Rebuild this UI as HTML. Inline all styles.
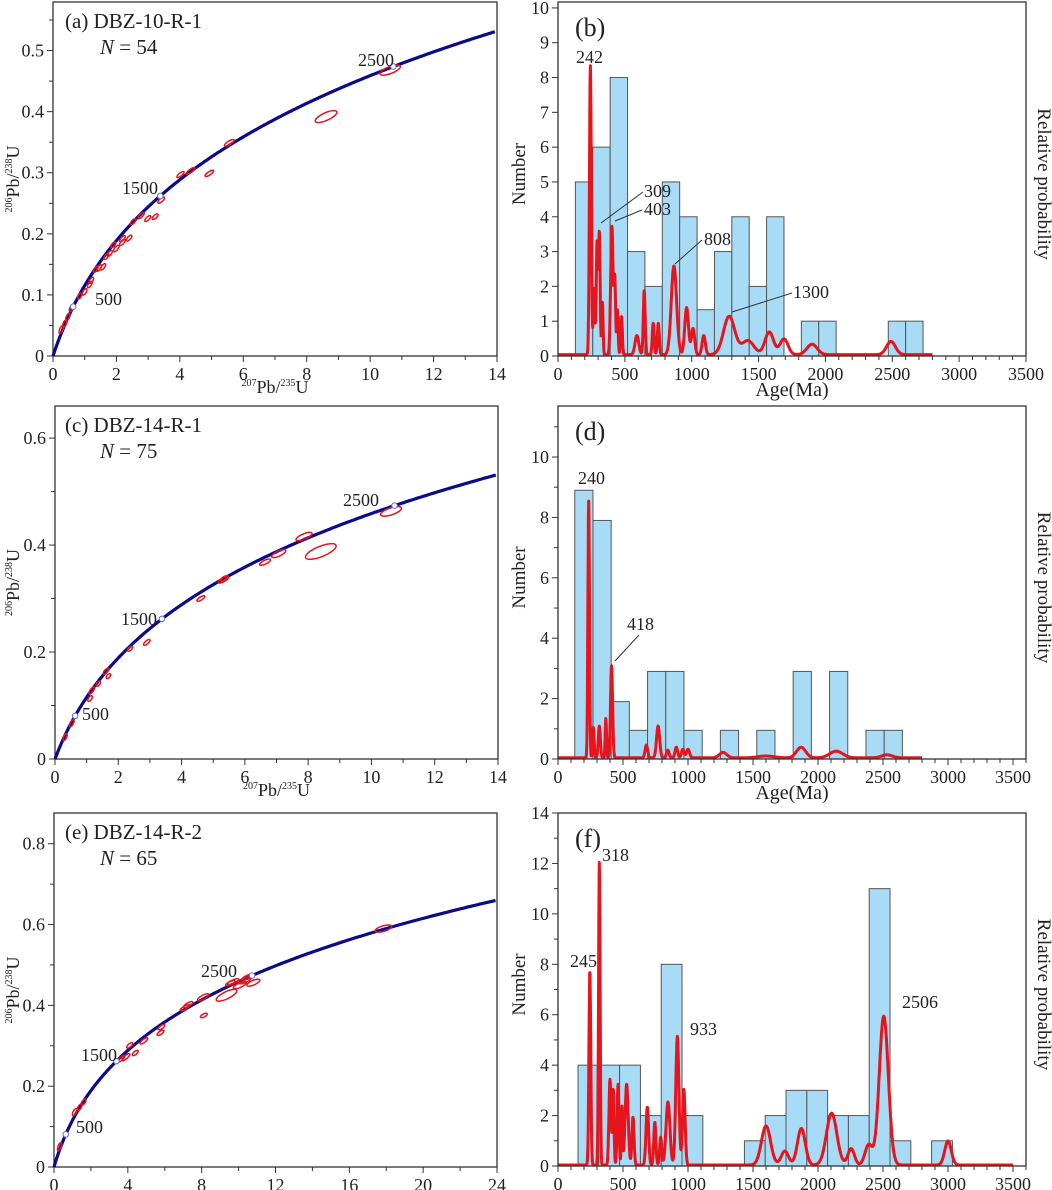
<!DOCTYPE html>
<html><head><meta charset="utf-8">
<style>
html,body{margin:0;padding:0;background:#fff;}
svg{display:block;font-family:"Liberation Serif",serif;}
</style></head>
<body>
<svg id="fig" width="1052" height="1190" viewBox="0 0 1052 1190" xmlns="http://www.w3.org/2000/svg"></svg>
<script>
// ---------- Concordia data (207Pb/235U, 206Pb/238U, semi-major error in 207/235 units) ----------
const ellA_x=[10.63,8.61,5.56,4.34,4.02,4.93,3.41,2.78,2.99,3.22,2.53,2.40,2.19,2.19,2.00,1.90,1.79,1.68,1.58,1.45,1.35,1.21,1.16,1.00,0.84,0.58,0.47,0.37,0.26];
const ellA_y=[0.468,0.392,0.349,0.303,0.297,0.299,0.255,0.230,0.225,0.228,0.220,0.193,0.186,0.192,0.176,0.182,0.168,0.163,0.146,0.144,0.142,0.124,0.117,0.105,0.098,0.078,0.064,0.053,0.043];
const ellA_e=[0.32,0.34,0.15,0.13,0.11,0.13,0.10,0.09,0.09,0.09,0.08,0.08,0.08,0.08,0.08,0.07,0.07,0.07,0.07,0.07,0.06,0.06,0.06,0.06,0.05,0.05,0.05,0.05,0.05];

const ellC_x=[10.62,8.40,7.87,7.07,6.64,5.32,5.35,4.61,2.90,2.37,1.69,1.61,1.37,1.16,1.11,0.53,0.32];
const ellC_y=[0.463,0.388,0.416,0.384,0.368,0.335,0.338,0.300,0.218,0.206,0.155,0.164,0.141,0.128,0.113,0.067,0.041];
const ellC_e=[0.33,0.48,0.25,0.22,0.17,0.16,0.12,0.12,0.10,0.07,0.06,0.08,0.06,0.08,0.06,0.06,0.05];

const ellE_x=[17.85,9.71,9.35,10.35,10.80,10.07,10.50,9.55,8.08,8.12,7.27,7.09,5.82,5.77,4.87,4.10,4.40,3.90,3.65,1.61,1.39,1.12,0.30];
const ellE_y=[0.590,0.458,0.425,0.462,0.456,0.450,0.470,0.455,0.420,0.375,0.402,0.394,0.346,0.332,0.312,0.301,0.282,0.272,0.268,0.161,0.148,0.136,0.050];
const ellE_e=[0.45,0.30,0.55,0.35,0.35,0.35,0.30,0.25,0.30,0.18,0.25,0.25,0.18,0.18,0.20,0.15,0.15,0.20,0.18,0.10,0.10,0.10,0.08];

// ---------- Histogram data ----------
const binsB_start=130, binsB_width=130;
const countsB=[5,6,8,3,2,5,4,1.33,3,4,2,4,0,1,1,0,0,0,1,1];
const peaksB_age=[242,270,292,309,332,403,425,445,475,590,645,712,750,867,962,1010,1090,1280,1420,1580,1690,1900,2490];
const peaksB_h=[8.3,1.9,3.2,3.5,1.5,3.7,2.1,1.3,1.1,0.55,1.85,0.9,0.9,2.55,1.35,0.75,0.55,1.1,0.4,0.65,0.45,0.3,0.38];
const peaksB_w=[7,6,6,6,5,9,6,5,6,14,7,7,7,20,14,12,12,42,45,32,30,38,33];

const binsD_start=129, binsD_width=140;
const countsD=[8.9,7.9,1.9,0.95,2.9,2.9,0.95,0,0.95,0,0.95,0,2.9,0,2.9,0,0.95,0.95];
const peaksD_age=[236,272,318,368,412,680,770,845,910,960,1000,1270,1600,1870,2140,2530];
const peaksD_h=[8.5,1.0,1.05,1.3,3.05,0.42,1.05,0.25,0.35,0.28,0.28,0.18,0.06,0.35,0.22,0.1];
const peaksD_w=[6,6,8,5,8,10,12,10,10,10,12,28,60,35,50,40];

const binsF_start=154, binsF_width=160;
const countsF=[4,4,4,2,8,2,0,0,1,2,3,3,2,2,11,1,0,1];
const peaksF_age=[245,318,400,425,462,492,528,577,687,745,790,846,918,968,1600,1745,1872,2105,2255,2390,2506,3000];
const peaksF_h=[7.7,12,3.4,3.0,3.2,2.3,3.2,1.9,2.3,1.7,1.1,2.5,5.1,3.0,1.55,0.55,1.45,2.05,0.65,0.8,5.9,0.95];
const peaksF_w=[7,6,8,6,7,5,12,8,10,8,8,15,12,10,35,28,30,40,25,28,35,25];

// ---------- helpers ----------
const NS="http://www.w3.org/2000/svg";
const svg=document.getElementById('fig');
function mk(tag,attrs,parent){const e=document.createElementNS(NS,tag);for(const k in attrs)e.setAttribute(k,attrs[k]);(parent||svg).appendChild(e);return e;}
function txt(str,x,y,size,parent,anchor,extra){const t=mk('text',Object.assign({x:x,y:y,'font-size':size,fill:'#222','text-anchor':anchor||'middle'},extra||{}),parent);t.textContent=str;return t;}
const L235=9.8485e-4, L238=1.55125e-4;

function concordiaPanel(id,L,R,T,B,xmax,ymax,title,nText,major,yStep,yMinor,labelPos,ex,ey,ee,showXTitle,xtickStep){
  const g=mk('g',{});
  
  
  const X=v=>L+(v/xmax)*(R-L), Y=v=>B-(v/ymax)*(B-T);
  // frame
  const fr=mk('rect',{x:L,y:T,width:R-L,height:B-T,fill:'none',stroke:'#333','stroke-width':1.3},g);
  
  
  // x ticks
  for(let v=0;v<=xmax+1e-9;v+=xtickStep/2){
    const isMaj=Math.abs(v/xtickStep-Math.round(v/xtickStep))<1e-6;
    mk('line',{x1:X(v),x2:X(v),y1:B,y2:B+(isMaj?6:4),stroke:'#333','stroke-width':1},g);
    if(isMaj){const t=txt(String(Math.round(v)),X(v),B+24,18,g);}
  }
  for(let v=0;v<=ymax+1e-9;v+=yMinor){
    const isMaj=Math.abs(v/yStep-Math.round(v/yStep))<1e-6;
    mk('line',{x1:L,x2:L-(isMaj?6:4),y1:Y(v),y2:Y(v),stroke:'#333','stroke-width':1},g);
    if(isMaj){const s=v<1e-9?'0':(Math.round(v*10)/10).toString();const t=txt(s,L-9,Y(v)+6,18,g,'end');}
  }
  // concordia curve
  const tmax=Math.log(1+xmax)/L235;
  let d='';
  for(let t=0;t<=tmax;t+=5){const x=Math.exp(L235*t)-1,y=Math.exp(L238*t)-1;d+=(t?'L':'M')+X(x).toFixed(1)+' '+Y(y).toFixed(1);}
  const cp=mk('path',{d:d,fill:'none',stroke:'#0a0a8c','stroke-width':3.2},g);
  
  
  // ellipses
  for(let i=0;i<ex.length;i++){
    const cx=X(ex[i]),cy=Y(ey[i]);
    const t=Math.log(1+ex[i])/L235;
    const slope=(L238*Math.exp(L238*t))/(L235*Math.exp(L235*t));
    const dxp=(R-L)/xmax, dyp=(B-T)/ymax;
    const ang=Math.atan2(-slope*dyp,dxp)*180/Math.PI;
    const rx=Math.max(2.5,ee[i]*dxp*Math.sqrt(1+Math.pow(slope*dyp/dxp,2)));
    const ry=Math.max(1.6,rx*0.32);
    const el=mk('ellipse',{cx:cx,cy:cy,rx:rx.toFixed(1),ry:ry.toFixed(1),fill:'none',stroke:'#e8141c','stroke-width':1.5,transform:`rotate(${ang.toFixed(1)} ${cx.toFixed(1)} ${cy.toFixed(1)})`},g);
    
    
  }
  // age markers
  [500,1500,2500].forEach((a,k)=>{
    const x=Math.exp(L235*a)-1,y=Math.exp(L238*a)-1;
    const c=mk('circle',{cx:X(x),cy:Y(y),r:2.8,fill:'#fff',stroke:'#6a6acc','stroke-width':1},g);
    
    
    const t=txt(String(a),labelPos[k][0],labelPos[k][1],18,g,'start');
    
    
  });
  const ti=txt(title,65,T+26,21,g,'start');
  
  
  const nt=mk('text',{x:100,y:T+52,'font-size':21,fill:'#222'},g);
  
  
  nt.innerHTML='<tspan font-style="italic">N</tspan> = '+nText;
  const yt=mk('text',{transform:`translate(19 ${(T+B)/2}) rotate(-90)`,'text-anchor':'middle','font-size':18,fill:'#222'},g);
  
  
  yt.innerHTML='<tspan font-size="10" dy="-7">206</tspan><tspan dy="7">Pb/</tspan><tspan font-size="10" dy="-7">238</tspan><tspan dy="7">U</tspan>';
  if(showXTitle){
    const xt=mk('text',{x:(L+R)/2,y:B+37,'text-anchor':'middle','font-size':18,fill:'#222'},g);
    
    
    xt.innerHTML='<tspan font-size="10" dy="-7">207</tspan><tspan dy="7">Pb/</tspan><tspan font-size="10" dy="-7">235</tspan><tspan dy="7">U</tspan>';
  }
}

function histPanel(id,L,R,T,B,xmax,ymax,yStep,bStart,bWidth,counts,pa,ph,pw,curveEnd,annots,showXTitle,label){
  const g=mk('g',{});
  
  
  const X=v=>L+(v/xmax)*(R-L), Y=v=>B-(v/ymax)*(B-T);
  counts.forEach((c,i)=>{
    if(c<=0)return;
    const x0=X(bStart+i*bWidth),x1=X(bStart+(i+1)*bWidth);
    const r=mk('rect',{x:x0,y:Y(c),width:x1-x0,height:B-Y(c),fill:'#a8dcf6',stroke:'#555','stroke-width':1},g);
    
    
  });
  let d='';
  for(let a=0;a<=curveEnd;a+=2){
    let v=0.04;
    for(let k=0;k<pa.length;k++){v+=ph[k]*Math.exp(-0.5*Math.pow((a-pa[k])/pw[k],2));}
    d+=(a?'L':'M')+X(a).toFixed(1)+' '+Y(v).toFixed(1);
  }
  const pp=mk('path',{d:d,fill:'none',stroke:'#e8141c','stroke-width':3,'stroke-linejoin':'round'},g);
  
  
  const fr=mk('rect',{x:L,y:T,width:R-L,height:B-T,fill:'none',stroke:'#333','stroke-width':1.3},g);
  
  
  for(let v=0;v<=xmax+1e-9;v+=100){
    const maj=v%500===0;
    mk('line',{x1:X(v),x2:X(v),y1:B,y2:B+(maj?6:4),stroke:'#333','stroke-width':1},g);
    if(maj&&v<=3500){const t=txt(String(v),X(v),B+24,18,g);}
  }
  for(let v=0;v<=ymax+1e-9;v+=1){
    const maj=v%yStep===0;
    mk('line',{x1:L,x2:L-(maj?6:4),y1:Y(v),y2:Y(v),stroke:'#333','stroke-width':1},g);
    if(maj){const t=txt(String(v),L-9,Y(v)+6,18,g,'end');}
  }
  annots.forEach(a=>{
    const t=txt(a[0],a[1],a[2],18,g,'start');
    
    
    if(a.length>3){const l=mk('line',{x1:a[3],y1:a[4],x2:a[5],y2:a[6],stroke:'#333','stroke-width':1},g);}
  });
  const pl=txt(label,575,T+34,26,g,'start');
  
  
  const yt=txt('Number',0,0,19,g);
  yt.setAttribute('transform',`translate(525 ${(T+B)/2-5}) rotate(-90)`);
  
  
  const rp=txt('Relative probability',0,0,19,g);
  rp.setAttribute('transform',`translate(1038 ${(T+B)/2+5}) rotate(90)`);
  
  
  if(showXTitle){const xt=txt('Age(Ma)',792,B+40,20,g);}
}

concordiaPanel('a',53,497,2,356,14,0.5795,'(a) DBZ-10-R-1','54',2,0.1,0.05,[[95,305],[122,194],[358,66]],ellA_x,ellA_y,ellA_e,true,2);
concordiaPanel('c',55,498,406,759,14,0.66,'(c) DBZ-14-R-1','75',2,0.2,0.1,[[82,720],[121,625],[343,506]],ellC_x,ellC_y,ellC_e,true,2);
concordiaPanel('e',54,497,813,1167,24,0.876,'(e) DBZ-14-R-2','65',4,0.2,0.1,[[76,1133],[81,1061],[201,977]],ellE_x,ellE_y,ellE_e,false,4);

histPanel('b',558,1026,2,356,3500,10.17,1,binsB_start,binsB_width,countsB,peaksB_age,peaksB_h,peaksB_w,2800,
  [['242',576,63],['309',644,197,643,192,601,223],['403',644,215,642,210,615,221],['808',704,245,702,240,675,264],['1300',793,298,792,293,732,312]],true,'(b)');
histPanel('d',558,1026,406,759,3600,11.69,2,binsD_start,binsD_width,countsD,peaksD_age,peaksD_h,peaksD_w,2800,
  [['240',578,484],['418',627,630,639,635,615,661]],true,'(d)');
histPanel('f',558,1026,813,1166,3600,14,2,binsF_start,binsF_width,countsF,peaksF_age,peaksF_h,peaksF_w,3500,
  [['245',570,967],['318',602,861],['933',690,1035],['2506',902,1008]],false,'(f)');
</script>
</body></html>
